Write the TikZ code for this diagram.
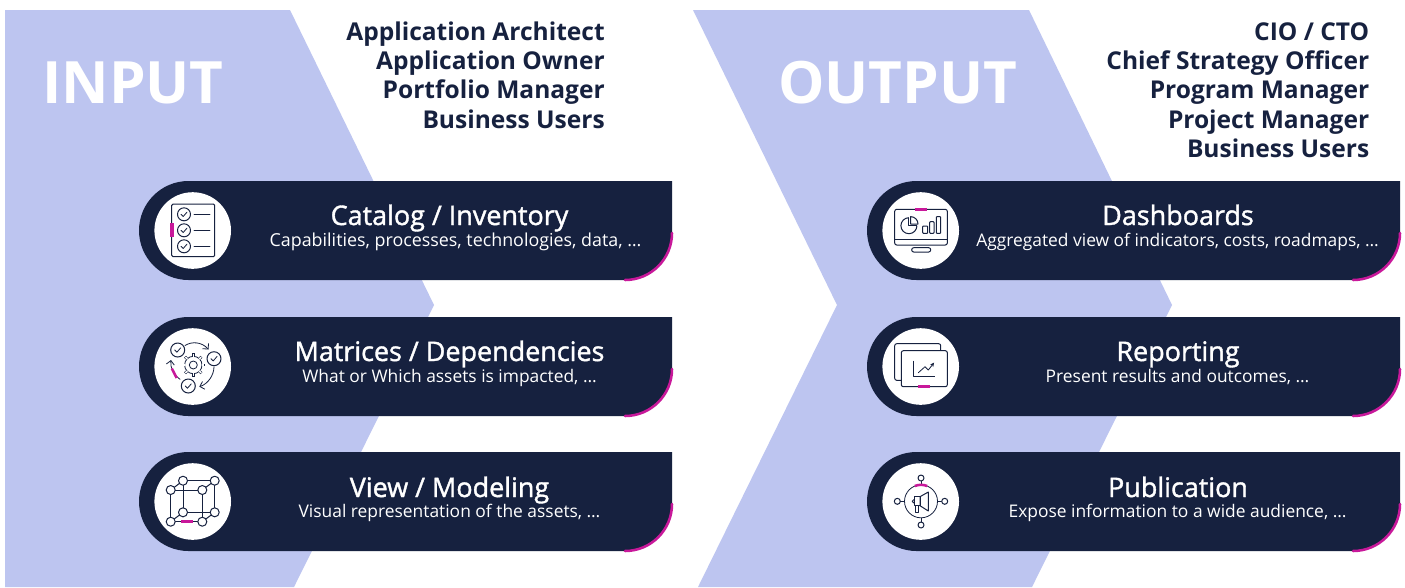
\documentclass[tikz,border=0pt]{standalone}
\usepackage{fontspec}
\setmainfont{Open Sans}
\newfontfamily\semib[FakeBold=1.4]{Open Sans}
\usetikzlibrary{arrows.meta}
\definecolor{navy}{HTML}{16213F}
\definecolor{chev}{HTML}{BDC5F0}
\definecolor{pinkm}{HTML}{C8189A}
\tikzset{
 x=0.75pt,y=-0.75pt,
 chevshape/.style={fill=chev,draw=none},
 barshape/.style={fill=navy,draw=none},
 pinkarc/.style={draw=pinkm,line width=1.9pt,line cap=round},
 disc/.style={fill=white,draw=none},
 icon/.style={draw=navy,line width=0.75pt,line join=round},
 iconthin/.style={draw=navy,line width=0.6pt,line join=round,line cap=round},
 pinkbar/.style={draw=pinkm,line width=1.9pt},
 bigtext/.style={anchor=base west,inner sep=0,text=white,font=\fontsize{43.8}{50}\selectfont\bfseries},
 roletext/.style={anchor=base east,inner sep=0,text=navy,font=\fontsize{18.4}{22}\selectfont\bfseries},
 titletext/.style={anchor=base,inner sep=0,text=white,font=\fontsize{20.2}{23}\selectfont\semib},
 subtext/.style={anchor=base,inner sep=0,text=white,font=\fontsize{13.05}{15}\selectfont},
}
\newcommand{\barat}[2]{% left x, top y
 \fill[barshape] (#1+49.5,#2) -- (#1+533,#2) -- (#1+533,#2+52) arc[start angle=0,end angle=90,radius=47] -- (#1+49.5,#2+99) arc[start angle=90,end angle=270,radius=49.5] -- cycle;
 \draw[pinkarc] (#1+533,#2+52) arc[start angle=0,end angle=90,radius=47];
 \fill[disc] (#1+53.7,#2+49.5) circle[radius=38.3];
}
\newcommand{\chk}[3]{% check mark centred at
 \draw[icon] (#1,#2) circle[radius=#3];
 \draw[iconthin] (#1-3,#2) -- (#1-0.8,#2+2.2) -- (#1+3,#2-2.2);
}
\begin{document}
\begin{tikzpicture}
\useasboundingbox (0,0) rectangle (1405,587);
\fill[white] (0,0) rectangle (1405,587);
% chevrons
\fill[chevshape] (5,10) -- (290,10) -- (434,305) -- (294,587) -- (5,587) -- cycle;
\fill[chevshape] (693,10) -- (1029,10) -- (1172,305) -- (1032,587) -- (698,587) -- (837,305) -- cycle;
% bars
\barat{139}{181}\barat{139}{317}\barat{139}{452}
\barat{867}{181}\barat{867}{317}\barat{867}{452}
% big labels
\node[bigtext] (inlabel) at (42,103) {INPUT};
\node[bigtext] (outlabel) at (778,103) {OUTPUT};
% roles
\node[roletext] (ra1) at (605,40) {Application Architect};
\node[roletext] (ra2) at (605,69.5) {Application Owner};
\node[roletext] (ra3) at (605,98.5) {Portfolio Manager};
\node[roletext] (ra4) at (605,128) {Business Users};
\node[roletext] (rb1) at (1369.5,40) {CIO / CTO};
\node[roletext] (rb2) at (1369.5,69.5) {Chief Strategy Officer};
\node[roletext] (rb3) at (1369.5,98.5) {Program Manager};
\node[roletext] (rb4) at (1369.5,128) {Project Manager};
\node[roletext] (rb5) at (1369.5,157) {Business Users};
% titles
\node[titletext] (t1) at (449.5,225) {Catalog / Inventory};
\node[subtext,font=\fontsize{13.4}{15}\selectfont] (s1) at (455.5,246.5) {Capabilities, processes, technologies, data, …};
\node[titletext] (t2) at (449.5,361) {Matrices / Dependencies};
\node[subtext] (s2) at (449.5,382) {What or Which assets is impacted, …};
\node[titletext] (t3) at (449.5,497) {View / Modeling};
\node[subtext] (s3) at (449.5,517) {Visual representation of the assets, …};
\node[titletext] (t4) at (1178,225) {Dashboards};
\node[subtext] (s4) at (1177.5,246.5) {Aggregated view of indicators, costs, roadmaps, …};
\node[titletext] (t5) at (1178,361) {Reporting};
\node[subtext] (s5) at (1177.5,382) {Present results and outcomes, …};
\node[titletext] (t6) at (1178,497) {Publication};
\node[subtext] (s6) at (1177.5,517) {Expose information to a wide audience, …};
% icon 1: checklist
\draw[icon,rounded corners=1pt] (171.7,204) rectangle (214.7,256.7);
\chk{184}{214.3}{6.5}\chk{184}{230.3}{6.5}\chk{184}{246.3}{6.5}
\draw[iconthin] (194,214.3) -- (210,214.3) (194,230.3) -- (210,230.3) (194,246.3) -- (210,246.3);
\draw[pinkbar,line width=2.4pt] (172,223.3) -- (172,236.7);
% icon 2: cycle with gear
\chk{177.7}{350}{7}\chk{214}{358.7}{7}\chk{188.3}{386}{7}
\draw[iconthin,-{Straight Barb[length=3pt,width=6pt]}] (185,345.5) .. controls (192,341) and (202,342) .. (208.5,349.5);
\draw[iconthin,-{Straight Barb[length=3pt,width=6pt]}] (214,366.7) .. controls (214,375) and (208,384) .. (199.3,386.7);
\draw[iconthin,-{Straight Barb[length=3pt,width=6pt]}] (180,379.3) .. controls (173,374) and (170,367) .. (171,360);
\draw[pinkbar] (171.8,368.5) -- (176.7,378);
\foreach \a in {0,45,...,315}{
 \draw[draw=navy,line width=2pt] (193.3,365)++(\a:9.2) -- ++(\a:2.4);
 \draw[draw=white,line width=0.9pt] (193.3,365)++(\a:8.8) -- ++(\a:2.3);
}
\draw[iconthin] (193.3,365) circle[radius=8.7];
\foreach \a in {0,45,...,315}{
 \draw[draw=white,line width=0.9pt] (193.3,365)++(\a:8.2) -- ++(\a:2.8);
}
\draw[iconthin] (193.3,365) circle[radius=4];
% icon 3: cube
\draw[icon] (170.7,490) -- (202.3,490) -- (202.3,521.7) -- (170.7,521.7) -- cycle;
\draw[icon] (183,480.7) -- (214.7,480.7) -- (214.7,512.3) -- (183,512.3) -- cycle;
\draw[icon] (170.7,490) -- (183,480.7) (202.3,490) -- (214.7,480.7) (170.7,521.7) -- (183,512.3) (202.3,521.7) -- (214.7,512.3);
\foreach \p in {(170.7,490),(202.3,490),(170.7,521.7),(202.3,521.7),(183,480.7),(214.7,480.7),(183,512.3),(214.7,512.3)}{
 \filldraw[icon,fill=white] \p circle[radius=4.5];
}
\draw[pinkbar] (181,521.7) -- (192.7,521.7);
% icon 4: monitor
\draw[icon,rounded corners=1.5pt] (894.7,209.3) rectangle (947.3,245);
\draw[icon] (894.7,239.3) -- (947.3,239.3);
\draw[icon,rounded corners=1.5pt] (911.7,247.7) rectangle (930.7,252);
\draw[pinkbar] (915,209.3) -- (927,209.3);
\draw[icon] (916.9,225.7) arc[start angle=0,end angle=270,radius=8];
\draw[icon] (908.9,217.7) -- (908.9,225.7) -- (916.9,225.7);
\draw[icon] (910.6,216.6) arc[start angle=270,end angle=360,radius=7.4] -- (910.6,224) -- cycle;
\draw[icon,rounded corners=0.5pt] (922.7,226) rectangle (927.7,233.3);
\draw[icon,rounded corners=0.5pt] (929.7,221.7) rectangle (934,233.3);
\draw[icon,rounded corners=0.5pt] (936.3,216.7) rectangle (940.7,233.3);
% icon 5: reports
\draw[icon,rounded corners=1.5pt] (901.3,380.3) -- (894.7,380.3) -- (894.7,343.7) -- (940.7,343.7) -- (940.7,350.7);
\draw[icon,rounded corners=1.5pt] (901.3,350.7) rectangle (947.3,386.7);
\draw[icon] (913.7,360.7) -- (913.7,376) -- (935,376);
\draw[iconthin,-{Stealth[length=3pt,width=3pt]}] (918.3,372.7) -- (925,366.7) -- (928.3,370) -- (934,362.7);
\draw[pinkbar] (918.3,386.5) -- (930.3,386.5);
% icon 6: megaphone
\draw[iconthin] (921,501.3) circle[radius=16.5];
\draw[icon] (921,484.8) -- (921,481) (921,517.8) -- (921,522) (904.5,501.3) -- (900.3,501.3) (937.5,501.3) -- (941.7,501.3);
\foreach \p in {(921,478),(921,525),(897.3,501.3),(944.7,501.3)}{
 \filldraw[icon,fill=white] \p circle[radius=3];
}
\draw[pinkarc,line cap=butt] (914.8,486) arc[start angle=248,end angle=292,radius=16.5];
\draw[icon] (920,496.7) -- (928.3,492) -- (928.3,511) -- (920,505.7) -- cycle;
\draw[icon] (914,496.7) rectangle (920,505.7);
\draw[icon] (915.7,505.7) rectangle (918.7,512.3);
\draw[icon] (914,499.5) arc[start angle=270,end angle=90,radius=1.8];
\end{tikzpicture}
\end{document}
